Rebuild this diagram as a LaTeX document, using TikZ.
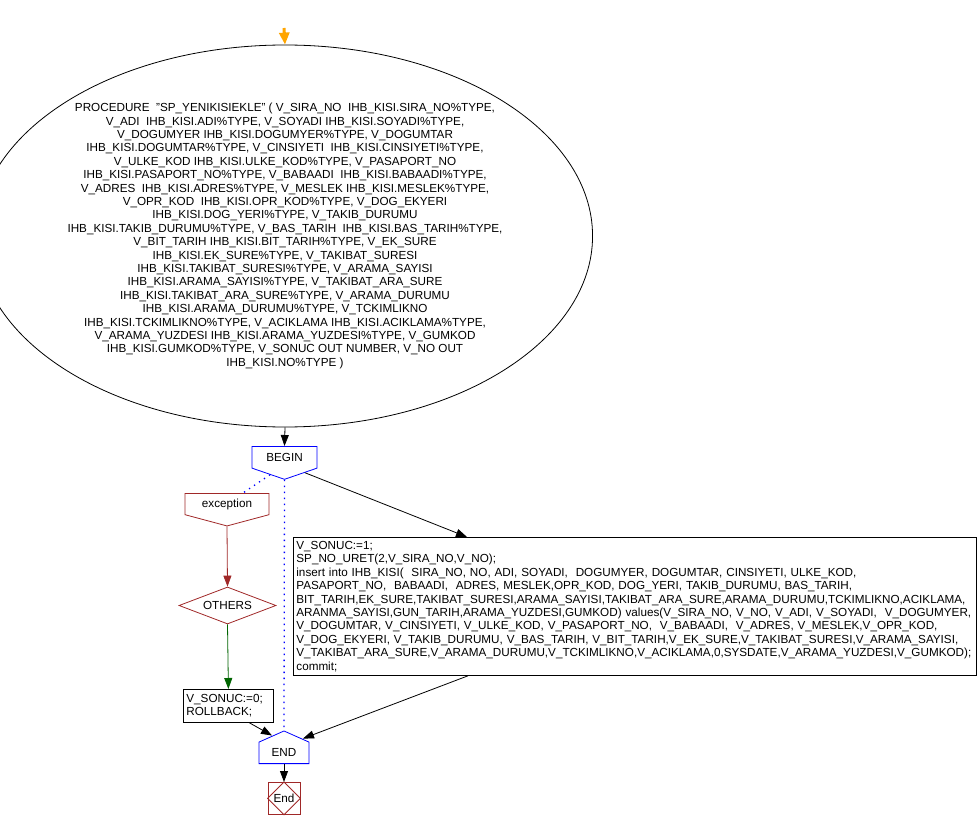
\documentclass[tikz,border=0pt]{standalone}
\usepackage{fontspec}
\setmainfont{Liberation Sans}
\usetikzlibrary{shapes.geometric,shapes.symbols,arrows.meta,calc}

\definecolor{flowblue}{RGB}{0,0,255}
\definecolor{flowred}{RGB}{160,40,40}
\definecolor{flowgreen}{RGB}{0,100,0}
\definecolor{floworange}{RGB}{255,165,0}

\tikzset{
  every node/.style={font=\fontsize{11.7}{13.4}\selectfont, inner sep=0pt},
  every path/.style={line width=0.8pt},
  arr/.style={-{Triangle[length=11pt,width=8pt]}},
  headbox/.style={signal, signal to=south, draw, minimum height=28pt},
  endbox/.style={signal, signal to=north, draw=flowblue, minimum width=50pt, minimum height=27pt, signal pointer angle=132},
  stmt/.style={draw, align=left, anchor=north west, inner sep=3pt},
  flowdots/.style={flowblue, line width=1.3pt, dash pattern=on 1.3pt off 4.7pt},
}

\begin{document}
\begin{tikzpicture}[x=1pt,y=-1pt]
  \useasboundingbox (0,0) rectangle (978,829);

  \coordinate (start) at (284,28);

  \node[ellipse, draw, minimum width=560pt, minimum height=382pt, align=center] (proc) at (285,236)
    {PROCEDURE~ "SP\_YENIKISIEKLE" ( V\_SIRA\_NO~ IHB\_KISI.SIRA\_NO\%TYPE,\\
     V\_ADI~ IHB\_KISI.ADI\%TYPE, V\_SOYADI IHB\_KISI.SOYADI\%TYPE,\\
     V\_DOGUMYER IHB\_KISI.DOGUMYER\%TYPE, V\_DOGUMTAR\\
     IHB\_KISI.DOGUMTAR\%TYPE, V\_CINSIYETI~ IHB\_KISI.CINSIYETI\%TYPE,\\
     V\_ULKE\_KOD IHB\_KISI.ULKE\_KOD\%TYPE, V\_PASAPORT\_NO\\
     IHB\_KISI.PASAPORT\_NO\%TYPE, V\_BABAADI~ IHB\_KISI.BABAADI\%TYPE,\\
     V\_ADRES~ IHB\_KISI.ADRES\%TYPE, V\_MESLEK IHB\_KISI.MESLEK\%TYPE,\\
     V\_OPR\_KOD~ IHB\_KISI.OPR\_KOD\%TYPE, V\_DOG\_EKYERI\\
     IHB\_KISI.DOG\_YERI\%TYPE, V\_TAKIB\_DURUMU\\
     IHB\_KISI.TAKIB\_DURUMU\%TYPE, V\_BAS\_TARIH~ IHB\_KISI.BAS\_TARIH\%TYPE,\\
     V\_BIT\_TARIH IHB\_KISI.BIT\_TARIH\%TYPE, V\_EK\_SURE\\
     IHB\_KISI.EK\_SURE\%TYPE, V\_TAKIBAT\_SURESI\\
     IHB\_KISI.TAKIBAT\_SURESI\%TYPE, V\_ARAMA\_SAYISI\\
     IHB\_KISI.ARAMA\_SAYISI\%TYPE, V\_TAKIBAT\_ARA\_SURE\\
     IHB\_KISI.TAKIBAT\_ARA\_SURE\%TYPE, V\_ARAMA\_DURUMU\\
     IHB\_KISI.ARAMA\_DURUMU\%TYPE, V\_TCKIMLIKNO\\
     IHB\_KISI.TCKIMLIKNO\%TYPE, V\_ACIKLAMA IHB\_KISI.ACIKLAMA\%TYPE,\\
     V\_ARAMA\_YUZDESI IHB\_KISI.ARAMA\_YUZDESI\%TYPE, V\_GUMKOD\\
     IHB\_KISI.GUMKOD\%TYPE, V\_SONUC OUT NUMBER, V\_NO OUT\\
     IHB\_KISI.NO\%TYPE )};

  \node[headbox, draw=flowblue, minimum width=65pt, signal pointer angle=142, anchor=north] (begin) at (284.5,446) {BEGIN};
  \node[headbox, draw=flowred, minimum width=84pt, minimum height=28pt, signal pointer angle=150, anchor=north] (exc) at (227,493) {exception};
  \node[diamond, draw=flowred, minimum width=97pt, minimum height=37pt, aspect=2.6] (others) at (227.5,605.5) {OTHERS};
  \node[stmt, minimum height=33pt, text width=84pt] (rollback) at (183,689) {V\_SONUC:=0;\\ROLLBACK;};
  \node[stmt, minimum height=138pt, text width=677pt] (body) at (293,537)
    {V\_SONUC:=1;\\
     SP\_NO\_URET(2,V\_SIRA\_NO,V\_NO);\\
     insert into IHB\_KISI(~ SIRA\_NO, NO, ADI, SOYADI,~ DOGUMYER, DOGUMTAR, CINSIYETI, ULKE\_KOD,\\
     PASAPORT\_NO,~ BABAADI,~ ADRES, MESLEK,OPR\_KOD, DOG\_YERI, TAKIB\_DURUMU, BAS\_TARIH,\\
     BIT\_TARIH,EK\_SURE,TAKIBAT\_SURESI,ARAMA\_SAYISI,TAKIBAT\_ARA\_SURE,ARAMA\_DURUMU,TCKIMLIKNO,ACIKLAMA,\\
     ARANMA\_SAYISI,GUN\_TARIH,ARAMA\_YUZDESI,GUMKOD) values(V\_SIRA\_NO, V\_NO, V\_ADI, V\_SOYADI,~ V\_DOGUMYER,\\
     V\_DOGUMTAR, V\_CINSIYETI, V\_ULKE\_KOD, V\_PASAPORT\_NO,~ V\_BABAADI,~ V\_ADRES, V\_MESLEK,V\_OPR\_KOD,\\
     V\_DOG\_EKYERI, V\_TAKIB\_DURUMU, V\_BAS\_TARIH, V\_BIT\_TARIH,V\_EK\_SURE,V\_TAKIBAT\_SURESI,V\_ARAMA\_SAYISI,\\
     V\_TAKIBAT\_ARA\_SURE,V\_ARAMA\_DURUMU,V\_TCKIMLIKNO,V\_ACIKLAMA,0,SYSDATE,V\_ARAMA\_YUZDESI,V\_GUMKOD);\\
     commit;};
  \node[endbox, anchor=south] (endb) at (284,764) {END};
  \node[draw=flowred, minimum size=32pt, anchor=north] (stop) at (284,782) {End};
  \draw[flowred] (stop.north) -- (stop.east) -- (stop.south) -- (stop.west) -- cycle;

  %%% CONNECTIONS
  \draw[floworange, -{Triangle[length=12pt,width=10pt]}, line width=3pt] (start) -- (proc.north);
  \draw[arr] (proc.south) -- (begin.north);
  \draw[arr] ($(begin.south)+(20.5,-7)$) -- ($(body.north west)+(174,0)$);
  \draw[flowdots] ($(begin.south)+(-14.5,-5)$) -- ($(exc.north)+(16,0)$);
  \draw[flowdots] (begin.south) -- (endb.north);
  \draw[flowred, arr] (exc.south) -- (others.north);
  \draw[flowgreen, arr] (others.south) -- (rollback.north);
  \draw[arr] ($(rollback.south)+(21,0)$) -- ($(endb.north)+(-12,5)$);
  \draw[arr] ($(body.south west)+(175,0)$) -- ($(endb.north)+(19,8)$);
  \draw[arr] (endb.south) -- (stop.north);
\end{tikzpicture}
\end{document}
